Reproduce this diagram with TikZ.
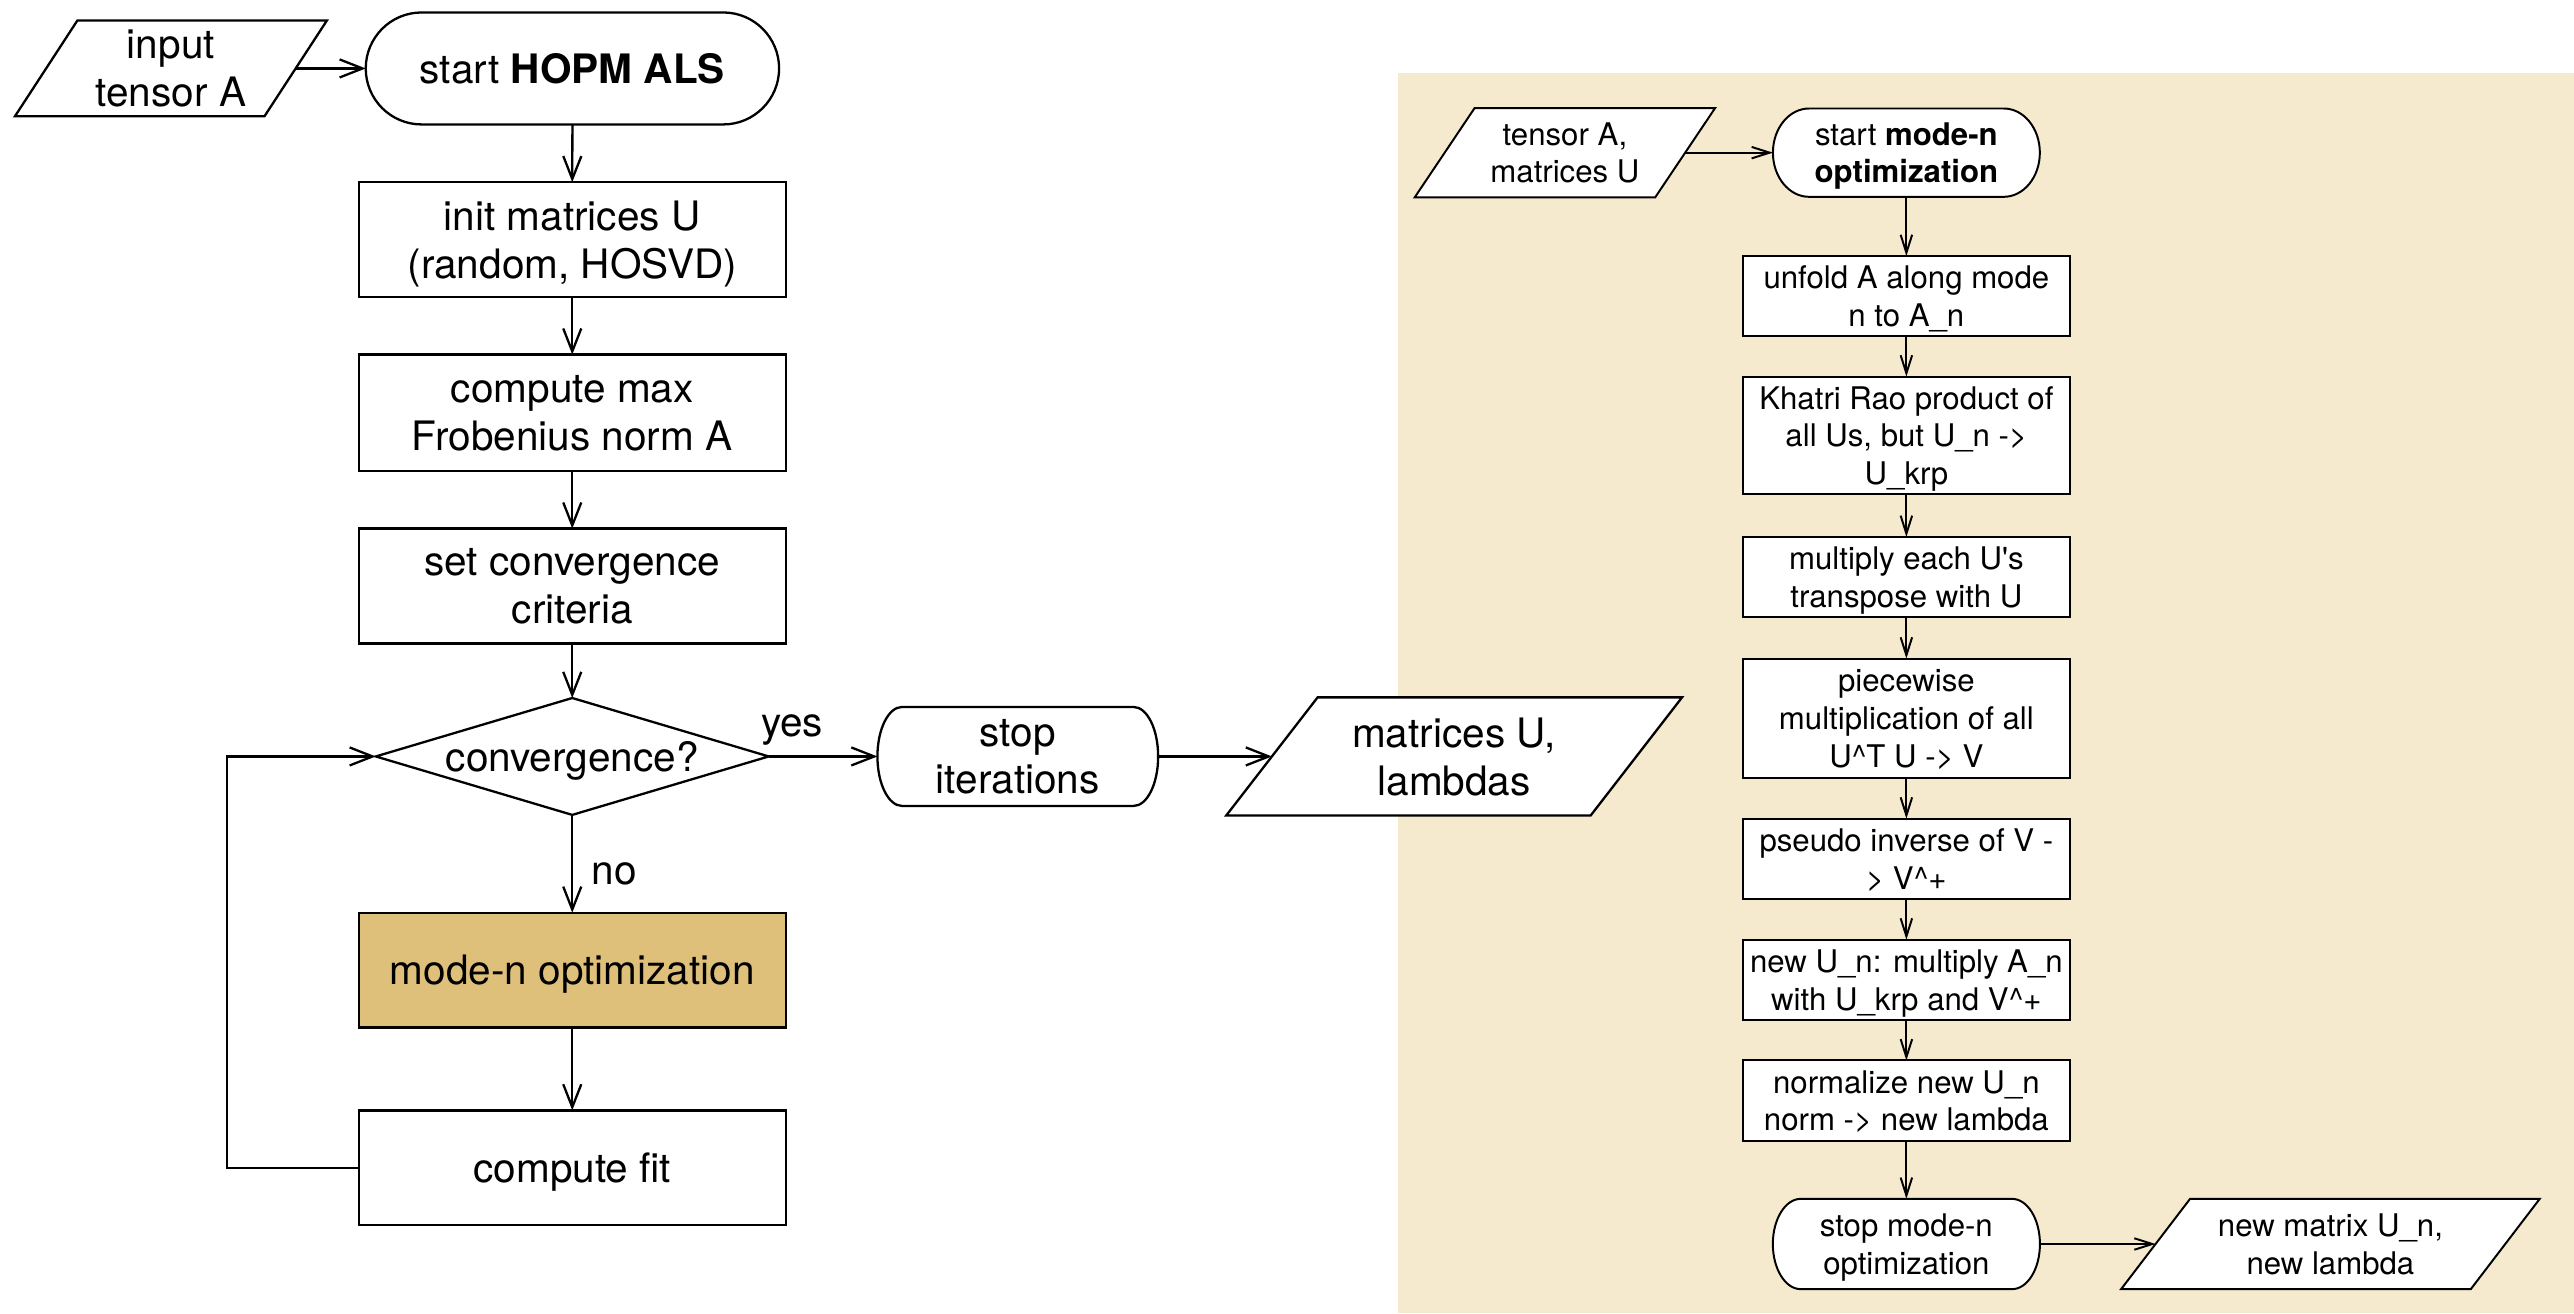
\documentclass[tikz,border=0pt]{standalone}
\usepackage{fontspec}
\setmainfont{TeX Gyre Heros}
\usetikzlibrary{arrows.meta}
\pgfdeclarelayer{back}
\pgfdeclarelayer{bg}
\pgfsetlayers{back,bg,main}
\definecolor{panel}{RGB}{245,234,206}
\definecolor{gold}{RGB}{223,192,122}
\newcommand\Lfont{\fontsize{24.7}{29}\selectfont}
\newcommand\Rfont{\fontsize{19}{23}\selectfont}
% stadium around node #1, end depth #2, half height #3, style #4
\newcommand\stadshape[4]{\draw[#4] ([xshift=#2pt]#1.north west) -- ([xshift=-#2pt]#1.north east)
  arc[start angle=90,end angle=-90,x radius=#2pt,y radius=#3pt] -- ([xshift=#2pt]#1.south west)
  arc[start angle=270,end angle=90,x radius=#2pt,y radius=#3pt] -- cycle;}
% parallelogram around node #1, half slant #2, style #3
\newcommand\parashape[3]{\draw[#3] ([xshift=-#2pt]#1.south west) -- ([xshift=#2pt]#1.north west)
  -- ([xshift=#2pt]#1.north east) -- ([xshift=-#2pt]#1.south east) -- cycle;}
\tikzset{
  L/.style={line width=1.4pt},
  R/.style={line width=1.2pt},
  hold/.style={inner sep=0pt, outer sep=0pt, align=center, text depth=0pt},
  lbox/.style={hold, L, draw, fill=white, minimum width=260pt, minimum height=70pt, font=\Lfont},
  rbox/.style={hold, R, draw, fill=white, minimum width=199pt, font=\Rfont},
  larr/.style={L, -{Straight Barb[length=14pt,width=11pt]}},
  rarr/.style={R, -{Straight Barb[length=11pt,width=7pt]}},
}
\begin{document}
\begin{tikzpicture}[x=1pt,y=-1pt]
\useasboundingbox (0,0) rectangle (1568,800);
\begin{pgfonlayer}{back}
  \fill[panel] (851.5,44.3) rectangle (1568,800);
\end{pgfonlayer}

% ---------- left flow ----------
\node[hold, font=\Lfont, minimum width=152pt, minimum height=58.3pt] (inp) at (104.1,41.7) {input\\tensor A};
\node[hold, font=\Lfont, minimum width=251.8pt, minimum height=68.2pt] (start) at (348.7,41.7) {start \textbf{HOPM ALS}};
\node[lbox] (init) at (348.6,146) {init matrices U\\(random, HOSVD)};
\node[lbox, minimum height=71pt] (cmax) at (348.6,251.5) {compute max\\Frobenius norm A};
\node[lbox] (setc) at (348.6,357) {set convergence\\criteria};
\node[hold, font=\Lfont, minimum width=239.4pt, minimum height=71.2pt] (conv) at (348.6,460.8) {convergence?};
\node[lbox, fill=gold] (moden) at (348.6,591) {mode-n optimization};
\node[lbox] (fit) at (348.6,711.4) {compute fit};
\node[hold, font=\Lfont, minimum width=171pt, minimum height=60.3pt] (stop) at (620,460.8) {stop\\iterations};
\node[hold, font=\Lfont, minimum width=222pt, minimum height=72pt] (out) at (885.8,460.8) {matrices U,\\lambdas};

% ---------- right flow ----------
\node[hold, font=\Rfont, minimum width=146.5pt, minimum height=54.4pt] (tin) at (953.3,93) {tensor A,\\matrices U};
\node[hold, font=\Rfont, minimum width=162.6pt, minimum height=53.8pt] (start2) at (1161.3,93) {start \textbf{mode-n}\\\textbf{optimization}};
\node[rbox, minimum height=48.7pt] (unfold) at (1161.3,180.35) {unfold A along mode\\n to A\_n};
\node[rbox, minimum height=71.6pt] (khatri) at (1161.3,265.2) {Khatri Rao product of\\all Us, but U\_n ->\\U\_krp};
\node[rbox, minimum height=49pt] (mult) at (1161.3,351.6) {multiply each U\textquotesingle s\\transpose with U};
\node[rbox, minimum height=72.8pt] (piece) at (1161.3,437.6) {piecewise\\multiplication of all\\U\textasciicircum T U -> V};
\node[rbox, minimum height=49pt] (pseudo) at (1161.3,523.2) {pseudo inverse of V -\\> V\textasciicircum +};
\node[rbox, minimum height=49pt] (newU) at (1161.3,596.9) {new U\_n: multiply A\_n\\with U\_krp and V\textasciicircum +};
\node[rbox, minimum height=49pt] (norm) at (1161.3,670.5) {normalize new U\_n\\norm -> new lambda};
\node[hold, font=\Rfont, minimum width=162.7pt, minimum height=55pt] (stop2) at (1161.3,757.8) {stop mode-n\\optimization};
\node[hold, font=\Rfont, minimum width=213pt, minimum height=55pt] (newm) at (1419.6,757.8) {new matrix U\_n,\\new lambda};

% ---------- outlines ----------
\begin{pgfonlayer}{bg}
  \parashape{inp}{19}{L, fill=white}
  \stadshape{start}{34}{34.1}{L, fill=white}
  \draw[L, fill=white] (conv.north) -- (conv.east) -- (conv.south) -- (conv.west) -- cycle;
  \stadshape{stop}{15}{30.15}{L, fill=white}
  \parashape{out}{27.85}{L, fill=white}
  \parashape{tin}{18.25}{R, fill=white}
  \stadshape{start2}{22}{26.9}{R, fill=white}
  \stadshape{stop2}{17}{27.5}{R, fill=white}
  \parashape{newm}{21}{R, fill=white}
\end{pgfonlayer}

% ---------- connectors left ----------
\draw[larr] (inp.east) -- (start.west);
\draw[larr] (start.south) -- (init.north);
\draw[larr] (init.south) -- (cmax.north);
\draw[larr] (cmax.south) -- (setc.north);
\draw[larr] (setc.south) -- (conv.north);
\draw[larr] (conv.east) -- (stop.west);
\draw[larr] (conv.south) -- (moden.north);
\draw[larr] (moden.south) -- (fit.north);
\draw[larr] (fit.west) -- ++(-80.5,0) |- (conv.west);
\draw[larr] (stop.east) -- (out.west);
\node[font=\Lfont, anchor=base] (yes) at (482.5,448.7) {yes};
\node[font=\Lfont, anchor=base west, inner sep=0pt] (no) at (360.4,539) {no};

% ---------- connectors right ----------
\draw[rarr] (tin.east) -- (start2.west);
\draw[rarr] (start2.south) -- (unfold.north);
\draw[rarr] (unfold.south) -- (khatri.north);
\draw[rarr] (khatri.south) -- (mult.north);
\draw[rarr] (mult.south) -- (piece.north);
\draw[rarr] (piece.south) -- (pseudo.north);
\draw[rarr] (pseudo.south) -- (newU.north);
\draw[rarr] (newU.south) -- (norm.north);
\draw[rarr] (norm.south) -- (stop2.north);
\draw[rarr] (stop2.east) -- (newm.west);
\end{tikzpicture}
\end{document}
